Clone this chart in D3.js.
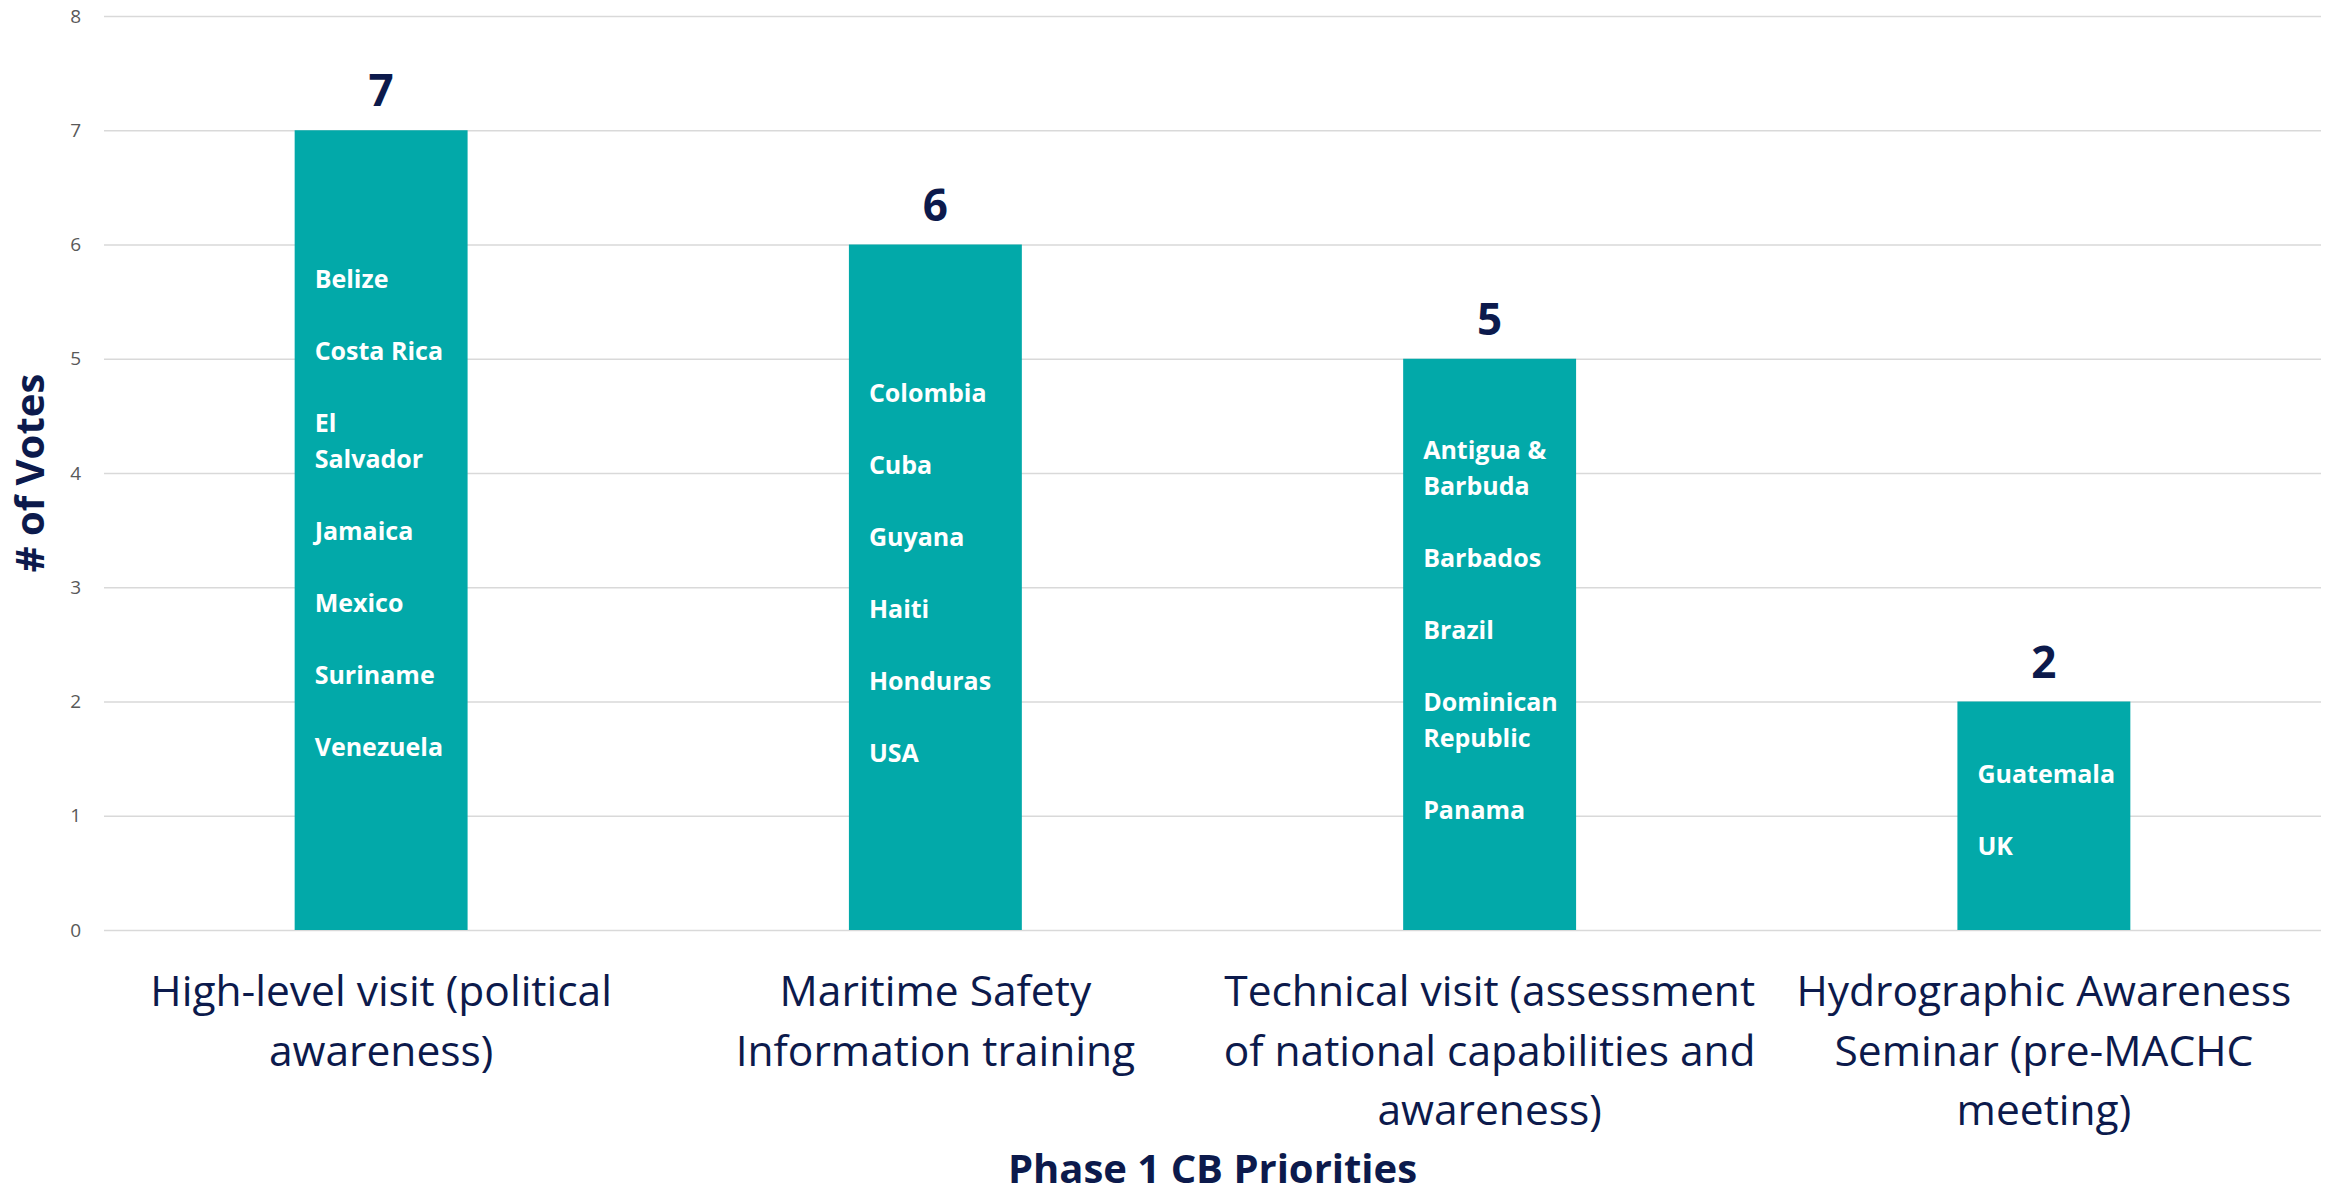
<!DOCTYPE html>
<html>
<head>
<meta charset="utf-8">
<script src="https://cdn.jsdelivr.net/npm/d3@7"></script>
<style>
  html, body { margin: 0; padding: 0; background: #ffffff; }
  svg { display: block; }
</style>
</head>
<body>
<svg id="chart" width="2336" height="1194"></svg>
<script>
// ---------- DATA ----------
const categories = [
  "High-level visit (political awareness)",
  "Maritime Safety Information training",
  "Technical visit (assessment of national capabilities and awareness)",
  "Hydrographic Awareness Seminar (pre-MACHC meeting)"
];
const tickLabelLines = [
  ["High-level visit (political", "awareness)"],
  ["Maritime Safety", "Information training"],
  ["Technical visit (assessment", "of national capabilities and", "awareness)"],
  ["Hydrographic Awareness", "Seminar (pre-MACHC", "meeting)"]
];
const votes = [7, 6, 5, 2];
const countryLists = [
  [["Belize"], ["Costa Rica"], ["El", "Salvador"], ["Jamaica"], ["Mexico"], ["Suriname"], ["Venezuela"]],
  [["Colombia"], ["Cuba"], ["Guyana"], ["Haiti"], ["Honduras"], ["USA"]],
  [["Antigua &", "Barbuda"], ["Barbados"], ["Brazil"], ["Dominican", "Republic"], ["Panama"]],
  [["Guatemala"], ["UK"]]
];
const yTicks = [0, 1, 2, 3, 4, 5, 6, 7, 8];
const yTitle = "# of Votes";
const xTitle = "Phase 1 CB Priorities";

// ---------- LAYOUT / STYLE ----------
const W = 2336, H = 1194;
const margin = { top: 16, right: 15, bottom: 264, left: 104 };
const iw = W - margin.left - margin.right;
const ih = H - margin.top - margin.bottom;
const TEAL = "#02a9a9";
const NAVY = "#0c1a4c";
const GRID = "#d9d9d9";
const FONT = "'Open Sans', 'Noto Sans', sans-serif";

const svg = d3.select("#chart");
const g = svg.append("g").attr("transform", `translate(${margin.left},${margin.top})`);

const x = d3.scaleBand()
  .domain(categories)
  .range([0, iw])
  .paddingInner(0.688)
  .paddingOuter(0.344);

const y = d3.scaleLinear().domain([0, 8]).range([ih, 0]);

// Y axis with gridlines
const yAxis = d3.axisLeft(y)
  .tickValues(yTicks)
  .tickSize(-iw)
  .tickPadding(23)
  .tickFormat(d3.format("d"));

const yg = g.append("g").call(yAxis);
yg.select(".domain").remove();
yg.selectAll(".tick line").attr("stroke", GRID).attr("stroke-width", 1.6);
yg.selectAll(".tick text")
  .attr("fill", "#595959")
  .style("font-family", FONT)
  .style("font-size", "19px");

// X axis (labels only)
const xAxis = d3.axisBottom(x).tickSize(0).tickFormat("");
const xg = g.append("g").attr("transform", `translate(0,${ih})`).call(xAxis);
xg.select(".domain").remove();
xg.selectAll(".tick").each(function (d, i) {
  const t = d3.select(this).append("text")
    .attr("text-anchor", "middle")
    .attr("fill", NAVY)
    .style("font-family", FONT)
    .style("font-size", "42.5px");
  tickLabelLines[i].forEach((line, k) => {
    t.append("tspan").attr("x", 0).attr("y", 76 + k * 59.5).text(line);
  });
});

// Bars
g.selectAll("rect.bar")
  .data(votes)
  .join("rect")
  .attr("class", "bar")
  .attr("x", (d, i) => x(categories[i]))
  .attr("y", d => y(d))
  .attr("width", x.bandwidth())
  .attr("height", d => y(0) - y(d))
  .attr("fill", TEAL);

// Value labels
g.selectAll("text.value")
  .data(votes)
  .join("text")
  .attr("class", "value")
  .attr("x", (d, i) => x(categories[i]) + x.bandwidth() / 2)
  .attr("y", d => y(d) - 24)
  .attr("text-anchor", "middle")
  .attr("fill", NAVY)
  .style("font-family", FONT)
  .style("font-weight", 700)
  .style("font-size", "44px")
  .text(d => d);

// Country labels inside bars
const LINE = 36;
countryLists.forEach((list, i) => {
  const lines = [];
  list.forEach((item, j) => {
    if (j > 0) lines.push("");
    item.forEach(l => lines.push(l));
  });
  const n = lines.length;
  const center = (y(votes[i]) + y(0)) / 2;
  const mid = center + 6.6 - 1.05 * n;
  const first = mid - (n - 1) * LINE / 2;
  const t = g.append("text")
    .attr("class", "countries")
    .attr("fill", "#ffffff")
    .style("font-family", FONT)
    .style("font-weight", 700)
    .style("font-size", "25px");
  lines.forEach((l, k) => {
    if (l === "") return;
    t.append("tspan")
      .attr("x", x(categories[i]) + 20)
      .attr("y", first + k * LINE)
      .text(l);
  });
});

// Axis titles
svg.append("text")
  .attr("transform", `translate(44,${margin.top + y(4)}) rotate(-90)`)
  .attr("text-anchor", "middle")
  .attr("fill", NAVY)
  .style("font-family", FONT)
  .style("font-weight", 700)
  .style("font-size", "40px")
  .text(yTitle);

svg.append("text")
  .attr("x", margin.left + iw / 2)
  .attr("y", 1183)
  .attr("text-anchor", "middle")
  .attr("fill", NAVY)
  .style("font-family", FONT)
  .style("font-weight", 700)
  .style("font-size", "40px")
  .text(xTitle);
</script>
</body>
</html>
